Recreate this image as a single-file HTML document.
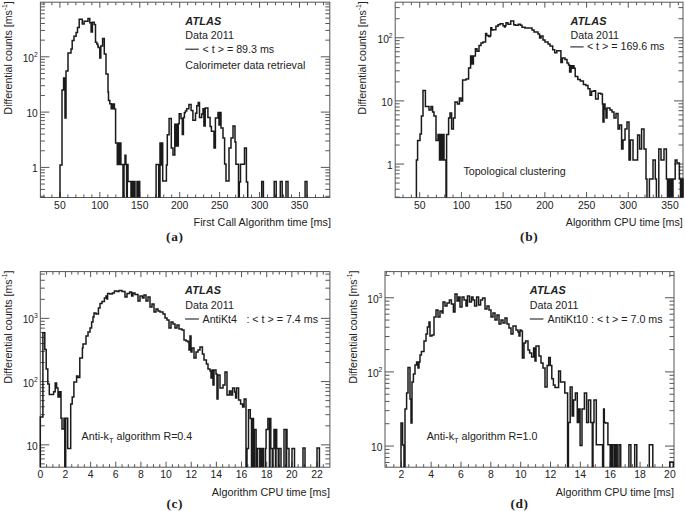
<!DOCTYPE html><html><head><meta charset="utf-8"><style>html,body{margin:0;padding:0;background:#fff;overflow:hidden}svg{display:block}</style></head><body><svg width="685" height="511" viewBox="0 0 685 511" font-family="&quot;Liberation Sans&quot;, sans-serif" fill="#222">
<rect width="685" height="511" fill="#fff"/>
<rect x="40.4" y="2.2" width="289.4" height="195.3" fill="none" stroke="#555" stroke-width="1"/>
<path d="M43.93 197.5v-3M43.93 2.2v3M51.91 197.5v-3M51.91 2.2v3M59.9 197.5v-5.5M59.9 2.2v5.5M67.89 197.5v-3M67.89 2.2v3M75.87 197.5v-3M75.87 2.2v3M83.86 197.5v-3M83.86 2.2v3M91.85 197.5v-3M91.85 2.2v3M99.83 197.5v-5.5M99.83 2.2v5.5M107.82 197.5v-3M107.82 2.2v3M115.81 197.5v-3M115.81 2.2v3M123.79 197.5v-3M123.79 2.2v3M131.78 197.5v-3M131.78 2.2v3M139.77 197.5v-5.5M139.77 2.2v5.5M147.75 197.5v-3M147.75 2.2v3M155.74 197.5v-3M155.74 2.2v3M163.73 197.5v-3M163.73 2.2v3M171.71 197.5v-3M171.71 2.2v3M179.7 197.5v-5.5M179.7 2.2v5.5M187.69 197.5v-3M187.69 2.2v3M195.67 197.5v-3M195.67 2.2v3M203.66 197.5v-3M203.66 2.2v3M211.65 197.5v-3M211.65 2.2v3M219.63 197.5v-5.5M219.63 2.2v5.5M227.62 197.5v-3M227.62 2.2v3M235.61 197.5v-3M235.61 2.2v3M243.59 197.5v-3M243.59 2.2v3M251.58 197.5v-3M251.58 2.2v3M259.57 197.5v-5.5M259.57 2.2v5.5M267.55 197.5v-3M267.55 2.2v3M275.54 197.5v-3M275.54 2.2v3M283.53 197.5v-3M283.53 2.2v3M291.51 197.5v-3M291.51 2.2v3M299.5 197.5v-5.5M299.5 2.2v5.5M307.49 197.5v-3M307.49 2.2v3M315.47 197.5v-3M315.47 2.2v3M323.46 197.5v-3M323.46 2.2v3M40.4 196.32h4.5M329.8 196.32h-4.5M40.4 189.41h4.5M329.8 189.41h-4.5M40.4 184.05h4.5M329.8 184.05h-4.5M40.4 179.67h4.5M329.8 179.67h-4.5M40.4 175.97h4.5M329.8 175.97h-4.5M40.4 172.76h4.5M329.8 172.76h-4.5M40.4 169.93h4.5M329.8 169.93h-4.5M40.4 167.4h9M329.8 167.4h-9M40.4 150.75h4.5M329.8 150.75h-4.5M40.4 141.02h4.5M329.8 141.02h-4.5M40.4 134.11h4.5M329.8 134.11h-4.5M40.4 128.75h4.5M329.8 128.75h-4.5M40.4 124.37h4.5M329.8 124.37h-4.5M40.4 120.67h4.5M329.8 120.67h-4.5M40.4 117.46h4.5M329.8 117.46h-4.5M40.4 114.63h4.5M329.8 114.63h-4.5M40.4 112.1h9M329.8 112.1h-9M40.4 95.45h4.5M329.8 95.45h-4.5M40.4 85.72h4.5M329.8 85.72h-4.5M40.4 78.81h4.5M329.8 78.81h-4.5M40.4 73.45h4.5M329.8 73.45h-4.5M40.4 69.07h4.5M329.8 69.07h-4.5M40.4 65.37h4.5M329.8 65.37h-4.5M40.4 62.16h4.5M329.8 62.16h-4.5M40.4 59.33h4.5M329.8 59.33h-4.5M40.4 56.8h9M329.8 56.8h-9M40.4 40.15h4.5M329.8 40.15h-4.5M40.4 30.42h4.5M329.8 30.42h-4.5M40.4 23.51h4.5M329.8 23.51h-4.5M40.4 18.15h4.5M329.8 18.15h-4.5M40.4 13.77h4.5M329.8 13.77h-4.5M40.4 10.07h4.5M329.8 10.07h-4.5M40.4 6.86h4.5M329.8 6.86h-4.5M40.4 4.03h4.5M329.8 4.03h-4.5" stroke="#555" stroke-width="1" fill="none"/>
<text x="59.9" y="208.7" text-anchor="middle" font-size="10.4">50</text>
<text x="99.83" y="208.7" text-anchor="middle" font-size="10.4">100</text>
<text x="139.77" y="208.7" text-anchor="middle" font-size="10.4">150</text>
<text x="179.7" y="208.7" text-anchor="middle" font-size="10.4">200</text>
<text x="219.63" y="208.7" text-anchor="middle" font-size="10.4">250</text>
<text x="259.57" y="208.7" text-anchor="middle" font-size="10.4">300</text>
<text x="299.5" y="208.7" text-anchor="middle" font-size="10.4">350</text>
<text transform="translate(37.8,172.3) scale(0.93,1)" text-anchor="end" font-size="11">1</text>
<text transform="translate(37.8,117) scale(0.93,1)" text-anchor="end" font-size="11">10</text>
<text transform="translate(37.8,61.7) scale(0.93,1)" text-anchor="end" font-size="11">10<tspan font-size="7.3" dy="-5">2</tspan></text>
<path d="M60 197.5V165H62V90H63.6V78H65V118H66V71H68V53H71V49H72.2V40.4H74V36.3H76.1V32.5H77.5V27.6H79.2V19.3H82.3V24.1H84.1V21.2H88V18.4H89.8V22.8H91.1V32H92.4V22.3H94.2V24.5H95.5V42.2H96.8V44H97.8V46H98.2V47.4H99.8V58H100.8V46.1H102.6V38.6H104.3V54H106V74H108V92H108.5V100.5H109.8V103.8H111.2V108.7H112V104H112.8V108.7H113.6V104H114.4V109H115.6V143H117.3V164.5H118.1V143H119V164.5H119.8V143H120.9V164.5H123V197.5M124 197.5V164.5H125V155.3H125.9V164.5H126.6V197.5M127.3 197.5V164.5H128V181.6H131V197.5M132.4 197.5V181.6H133.4V197.5M134 197.5V181.6H135V197.5M137 197.5V181.6H138V197.5M138.7 197.5V181.6H139.7V197.5M156.1 197.5V164.5H158.7V197.5M160 197.5V143H160.9V165H161.6V143H162.7V181H166.4V165H167.3V134.8H169.1V118.5H171.3V148H173V155H174.8V124.2H175.6V146H176.4V124.2H177.2V146H178.3V123.8H179.2V113.7H181V118.5H182.3V134.4H183.4V117.6H184.4V112.8H185.4V111H186.7V108.8H188.9V104.4H191.1V110.6H192.9V120.3H195.5V113.2H196.8V105.7H198.2V102.6H199.5V117.6H201.7V114H203V108.8H203.9V126H205.2V108H207.9V117.6H210.1V126.4H211.4V131.3H214V148H215.4V118H218V112.4H219V125H220V112.4H221V128H223V138H224.6V164H226V181H229V148H231V138H233V126H235V142H235.9V164.3H238.5V197.5M239.3 197.5V182H240.5V164.3H244.5V147.9H246.4V182H247.7V197.5M261.7 197.5V181.4H263.4V197.5M274.2 197.5V181.4H276.2V197.5M280.3 197.5V181.4H282.2V197.5M286 197.5V181.4H288V197.5M305.1 197.5V181.4H307V197.5" stroke="#1a1a1a" stroke-width="1.5" fill="none" stroke-linejoin="miter"/>
<rect x="395.2" y="2.2" width="287.8" height="195.4" fill="none" stroke="#555" stroke-width="1"/>
<path d="M403.01 197.6v-3M403.01 2.2v3M411.36 197.6v-3M411.36 2.2v3M419.7 197.6v-5.5M419.7 2.2v5.5M428.04 197.6v-3M428.04 2.2v3M436.39 197.6v-3M436.39 2.2v3M444.73 197.6v-3M444.73 2.2v3M453.07 197.6v-3M453.07 2.2v3M461.42 197.6v-5.5M461.42 2.2v5.5M469.76 197.6v-3M469.76 2.2v3M478.1 197.6v-3M478.1 2.2v3M486.45 197.6v-3M486.45 2.2v3M494.79 197.6v-3M494.79 2.2v3M503.13 197.6v-5.5M503.13 2.2v5.5M511.48 197.6v-3M511.48 2.2v3M519.82 197.6v-3M519.82 2.2v3M528.16 197.6v-3M528.16 2.2v3M536.51 197.6v-3M536.51 2.2v3M544.85 197.6v-5.5M544.85 2.2v5.5M553.19 197.6v-3M553.19 2.2v3M561.54 197.6v-3M561.54 2.2v3M569.88 197.6v-3M569.88 2.2v3M578.22 197.6v-3M578.22 2.2v3M586.57 197.6v-5.5M586.57 2.2v5.5M594.91 197.6v-3M594.91 2.2v3M603.25 197.6v-3M603.25 2.2v3M611.6 197.6v-3M611.6 2.2v3M619.94 197.6v-3M619.94 2.2v3M628.28 197.6v-5.5M628.28 2.2v5.5M636.63 197.6v-3M636.63 2.2v3M644.97 197.6v-3M644.97 2.2v3M653.31 197.6v-3M653.31 2.2v3M661.66 197.6v-3M661.66 2.2v3M670 197.6v-5.5M670 2.2v5.5M678.34 197.6v-3M678.34 2.2v3M395.2 197.07h4.5M683 197.07h-4.5M395.2 189.18h4.5M683 189.18h-4.5M395.2 183.06h4.5M683 183.06h-4.5M395.2 178.06h4.5M683 178.06h-4.5M395.2 173.83h4.5M683 173.83h-4.5M395.2 170.17h4.5M683 170.17h-4.5M395.2 166.94h4.5M683 166.94h-4.5M395.2 164.05h9M683 164.05h-9M395.2 145.04h4.5M683 145.04h-4.5M395.2 133.92h4.5M683 133.92h-4.5M395.2 126.03h4.5M683 126.03h-4.5M395.2 119.91h4.5M683 119.91h-4.5M395.2 114.91h4.5M683 114.91h-4.5M395.2 110.68h4.5M683 110.68h-4.5M395.2 107.02h4.5M683 107.02h-4.5M395.2 103.79h4.5M683 103.79h-4.5M395.2 100.9h9M683 100.9h-9M395.2 81.89h4.5M683 81.89h-4.5M395.2 70.77h4.5M683 70.77h-4.5M395.2 62.88h4.5M683 62.88h-4.5M395.2 56.76h4.5M683 56.76h-4.5M395.2 51.76h4.5M683 51.76h-4.5M395.2 47.53h4.5M683 47.53h-4.5M395.2 43.87h4.5M683 43.87h-4.5M395.2 40.64h4.5M683 40.64h-4.5M395.2 37.75h9M683 37.75h-9M395.2 18.74h4.5M683 18.74h-4.5M395.2 7.62h4.5M683 7.62h-4.5" stroke="#555" stroke-width="1" fill="none"/>
<text x="419.7" y="208.7" text-anchor="middle" font-size="10.4">50</text>
<text x="461.42" y="208.7" text-anchor="middle" font-size="10.4">100</text>
<text x="503.13" y="208.7" text-anchor="middle" font-size="10.4">150</text>
<text x="544.85" y="208.7" text-anchor="middle" font-size="10.4">200</text>
<text x="586.57" y="208.7" text-anchor="middle" font-size="10.4">250</text>
<text x="628.28" y="208.7" text-anchor="middle" font-size="10.4">300</text>
<text x="670" y="208.7" text-anchor="middle" font-size="10.4">350</text>
<text transform="translate(392.6,168.95) scale(0.93,1)" text-anchor="end" font-size="11">1</text>
<text transform="translate(392.6,105.8) scale(0.93,1)" text-anchor="end" font-size="11">10</text>
<text transform="translate(392.6,42.65) scale(0.93,1)" text-anchor="end" font-size="11">10<tspan font-size="7.3" dy="-5">2</tspan></text>
<path d="M416.4 197.6V160H417.6V140.4H420V134H421.4V116H423V90.4H425.4V106.4H429V110H431V106.4H432.6V112H434V116H436V140.4H438V134.4H439.5V160H440.5V134.4H442V160H443V134.4H444V160H446V197.6M446.6 197.6V134.4H448.6V118H450V113H451.6V129H453.4V118H455V102H457.4V104H459.4V98H461V101H462.6V80H466V79H468.6V68H470.6V56H471.3V64H472V56H472.7V64H473.4V56H474.4V55.9H475.4V48.7H477V51.3H479V45.6H481V43.1H483V42.1H485.6V33.4H486.7V35.4H488.5V36.5H490.2V35.4H490.8V27.8H491.8V30H492.8V29.8H495.9V26.2H498V24.7H500V23.7H503V25.7H504.5V27H505.2V25.7H506V22.7H508V24.2H510.7V21.1H513.7V24.7H515.3V25.2H518.3V24.2H520.4V25.2H522V27.3H525V28H532V30H534V32H538V34H539.6V38H541V36H543V40H545V42H548V44H550V46H552.7V49.7H554.7V52.8H556.8V50.7H560.9V62.5H562.4V57.9H565V59.4H567V63H568.5V65H569.6V71.9H571.1V65.7H572V68.3H573V65.7H574V68.3H575.2V76.5H577.8V79.5H580.3V81H583.4V84.6H585.9V85.6H588V88.7H590V95.3H591.6V91.3H594.1V90.8H595.6V98.9H598.2V93.3H600.8V94H602.4V104H603V122H604V104H605V109H606V118H607V108H610V110H612V112H614V118H616V113.6H618V129H619.6V125H621.6V149H623V140H625V129H627V122H629V160H630.4V140H633V160H637.6V135H639.6V149H641.6V129H644V149H646V179H647V197.6M649.4 197.6V179H653V160H655.3V179H656.4V197.6M658.8 197.6V149H661V160H664V149H666.4V179H667.5V197.6M668.8 197.6V179H670V197.6M671 197.6V179H672V197.6M673 197.6V179H675.2V160H677V163H679.4V179H680.5V197.6M681.5 197.6V179H683V197.6" stroke="#1a1a1a" stroke-width="1.5" fill="none" stroke-linejoin="miter"/>
<rect x="40.3" y="271.6" width="289.6" height="195.6" fill="none" stroke="#555" stroke-width="1"/>
<path d="M46.59 467.2v-3M46.59 271.6v3M52.88 467.2v-3M52.88 271.6v3M59.17 467.2v-3M59.17 271.6v3M65.45 467.2v-5.5M65.45 271.6v5.5M71.74 467.2v-3M71.74 271.6v3M78.03 467.2v-3M78.03 271.6v3M84.32 467.2v-3M84.32 271.6v3M90.61 467.2v-5.5M90.61 271.6v5.5M96.9 467.2v-3M96.9 271.6v3M103.19 467.2v-3M103.19 271.6v3M109.47 467.2v-3M109.47 271.6v3M115.76 467.2v-5.5M115.76 271.6v5.5M122.05 467.2v-3M122.05 271.6v3M128.34 467.2v-3M128.34 271.6v3M134.63 467.2v-3M134.63 271.6v3M140.92 467.2v-5.5M140.92 271.6v5.5M147.21 467.2v-3M147.21 271.6v3M153.5 467.2v-3M153.5 271.6v3M159.78 467.2v-3M159.78 271.6v3M166.07 467.2v-5.5M166.07 271.6v5.5M172.36 467.2v-3M172.36 271.6v3M178.65 467.2v-3M178.65 271.6v3M184.94 467.2v-3M184.94 271.6v3M191.23 467.2v-5.5M191.23 271.6v5.5M197.52 467.2v-3M197.52 271.6v3M203.8 467.2v-3M203.8 271.6v3M210.09 467.2v-3M210.09 271.6v3M216.38 467.2v-5.5M216.38 271.6v5.5M222.67 467.2v-3M222.67 271.6v3M228.96 467.2v-3M228.96 271.6v3M235.25 467.2v-3M235.25 271.6v3M241.54 467.2v-5.5M241.54 271.6v5.5M247.82 467.2v-3M247.82 271.6v3M254.11 467.2v-3M254.11 271.6v3M260.4 467.2v-3M260.4 271.6v3M266.69 467.2v-5.5M266.69 271.6v5.5M272.98 467.2v-3M272.98 271.6v3M279.27 467.2v-3M279.27 271.6v3M285.56 467.2v-3M285.56 271.6v3M291.85 467.2v-5.5M291.85 271.6v5.5M298.13 467.2v-3M298.13 271.6v3M304.42 467.2v-3M304.42 271.6v3M310.71 467.2v-3M310.71 271.6v3M317 467.2v-5.5M317 271.6v5.5M323.29 467.2v-3M323.29 271.6v3M40.3 463.89h4.5M329.9 463.89h-4.5M40.3 458.88h4.5M329.9 458.88h-4.5M40.3 454.65h4.5M329.9 454.65h-4.5M40.3 450.98h4.5M329.9 450.98h-4.5M40.3 447.74h4.5M329.9 447.74h-4.5M40.3 444.85h9M329.9 444.85h-9M40.3 425.81h4.5M329.9 425.81h-4.5M40.3 414.67h4.5M329.9 414.67h-4.5M40.3 406.77h4.5M329.9 406.77h-4.5M40.3 400.64h4.5M329.9 400.64h-4.5M40.3 395.63h4.5M329.9 395.63h-4.5M40.3 391.4h4.5M329.9 391.4h-4.5M40.3 387.73h4.5M329.9 387.73h-4.5M40.3 384.49h4.5M329.9 384.49h-4.5M40.3 381.6h9M329.9 381.6h-9M40.3 362.56h4.5M329.9 362.56h-4.5M40.3 351.42h4.5M329.9 351.42h-4.5M40.3 343.52h4.5M329.9 343.52h-4.5M40.3 337.39h4.5M329.9 337.39h-4.5M40.3 332.38h4.5M329.9 332.38h-4.5M40.3 328.15h4.5M329.9 328.15h-4.5M40.3 324.48h4.5M329.9 324.48h-4.5M40.3 321.24h4.5M329.9 321.24h-4.5M40.3 318.35h9M329.9 318.35h-9M40.3 299.31h4.5M329.9 299.31h-4.5M40.3 288.17h4.5M329.9 288.17h-4.5M40.3 280.27h4.5M329.9 280.27h-4.5M40.3 274.14h4.5M329.9 274.14h-4.5" stroke="#555" stroke-width="1" fill="none"/>
<text x="40.3" y="478.2" text-anchor="middle" font-size="10.4">0</text>
<text x="65.45" y="478.2" text-anchor="middle" font-size="10.4">2</text>
<text x="90.61" y="478.2" text-anchor="middle" font-size="10.4">4</text>
<text x="115.76" y="478.2" text-anchor="middle" font-size="10.4">6</text>
<text x="140.92" y="478.2" text-anchor="middle" font-size="10.4">8</text>
<text x="166.07" y="478.2" text-anchor="middle" font-size="10.4">10</text>
<text x="191.23" y="478.2" text-anchor="middle" font-size="10.4">12</text>
<text x="216.38" y="478.2" text-anchor="middle" font-size="10.4">14</text>
<text x="241.54" y="478.2" text-anchor="middle" font-size="10.4">16</text>
<text x="266.69" y="478.2" text-anchor="middle" font-size="10.4">18</text>
<text x="291.85" y="478.2" text-anchor="middle" font-size="10.4">20</text>
<text x="317" y="478.2" text-anchor="middle" font-size="10.4">22</text>
<text transform="translate(37.8,449.75) scale(0.93,1)" text-anchor="end" font-size="11">10</text>
<text transform="translate(37.8,386.5) scale(0.93,1)" text-anchor="end" font-size="11">10<tspan font-size="7.3" dy="-5">2</tspan></text>
<text transform="translate(37.8,323.25) scale(0.93,1)" text-anchor="end" font-size="11">10<tspan font-size="7.3" dy="-5">3</tspan></text>
<path d="M40.3 467.2V417H42.9V332.8H44.8V349.5H46.2V369H47.8V384H49.3V394.6H53.6V391.7H55.2V383H56.6V388H58V397H59.5V391.7H61V418.3H62V429H64V418.3H64.8V467.2M65.7 467.2V418.3H67.7V448.4H70.7V404H72.2V397H73.9V382H76.6V376H78V377.5H79.8V358H82.4V348H83V344H86V336H88V332H90V328H91.6V322H93V317H94V313H96V314H98.4V308H100V303.6H102V301.6H104.4V298H106V296H107V299H107.6V293.6H110V294H112.4V293H114.4V291H117V291.6H119V290.6H122V291.6H125V297H127V293.6H129.6V292H131.6V296H133V293H135V294.4H138V301H140V296H142.4V298H144V295H146V301H148V297H150V307H152V304H154V312H156V309H158V311H160V312H163V314H165V318H167V320H169V328H171V322H173V324H175V328H177V325H179V329H182V330H184V340H186V341H188V342H189V350H190V336H191V352H192V348H194V358H196V352H198V350H200V347H202.4V354H204V360H206.4V364H208V369H210V371H211V378H212V370H213V385H214V370H216V374H217V399H218V375H220V388H223V385H225V372H227V395H229.4V391H231V395H232.6V388H234.6V392H235.6V398H236.6V388H238.6V400H240.6V404H242.6V407H244.1V399H246V467.2M247 467.2V448.5H248.5V409.7H250.3V418.5H251.5V467.2M252.2 467.2V418.5H253.5V467.2M254.4 467.2V429.5H256.1V467.2M257.6 467.2V448.5H259.8V467.2M260.5 467.2V448.5H262V467.2M262.5 467.2V448.5H263.5V467.2M265.5 467.2V448.5H266.1V429.5H267.9V418.5H269.5V467.2M270 467.2V418.5H270.8V448.5H272.3V467.2M273 467.2V448.5H274V429.5H275.5V467.2M276 467.2V429.5H276.7V448.5H278.3V467.2M279 467.2V448.5H281V467.2M284 467.2V429.5H286V467.2M286.6 467.2V429.5H287V448.5H289V467.2M292 467.2V448.5H294.5V467.2M303 467.2V448H305V467.2M317 467.2V448H319.4V467.2" stroke="#1a1a1a" stroke-width="1.5" fill="none" stroke-linejoin="miter"/>
<rect x="385" y="271.6" width="289" height="195.6" fill="none" stroke="#555" stroke-width="1"/>
<path d="M386.38 467.2v-3M386.38 271.6v3M393.84 467.2v-3M393.84 271.6v3M401.3 467.2v-5.5M401.3 271.6v5.5M408.76 467.2v-3M408.76 271.6v3M416.22 467.2v-3M416.22 271.6v3M423.68 467.2v-3M423.68 271.6v3M431.14 467.2v-5.5M431.14 271.6v5.5M438.61 467.2v-3M438.61 271.6v3M446.07 467.2v-3M446.07 271.6v3M453.53 467.2v-3M453.53 271.6v3M460.99 467.2v-5.5M460.99 271.6v5.5M468.45 467.2v-3M468.45 271.6v3M475.91 467.2v-3M475.91 271.6v3M483.37 467.2v-3M483.37 271.6v3M490.83 467.2v-5.5M490.83 271.6v5.5M498.29 467.2v-3M498.29 271.6v3M505.76 467.2v-3M505.76 271.6v3M513.22 467.2v-3M513.22 271.6v3M520.68 467.2v-5.5M520.68 271.6v5.5M528.14 467.2v-3M528.14 271.6v3M535.6 467.2v-3M535.6 271.6v3M543.06 467.2v-3M543.06 271.6v3M550.52 467.2v-5.5M550.52 271.6v5.5M557.98 467.2v-3M557.98 271.6v3M565.44 467.2v-3M565.44 271.6v3M572.91 467.2v-3M572.91 271.6v3M580.37 467.2v-5.5M580.37 271.6v5.5M587.83 467.2v-3M587.83 271.6v3M595.29 467.2v-3M595.29 271.6v3M602.75 467.2v-3M602.75 271.6v3M610.21 467.2v-5.5M610.21 271.6v5.5M617.67 467.2v-3M617.67 271.6v3M625.13 467.2v-3M625.13 271.6v3M632.59 467.2v-3M632.59 271.6v3M640.06 467.2v-5.5M640.06 271.6v5.5M647.52 467.2v-3M647.52 271.6v3M654.98 467.2v-3M654.98 271.6v3M662.44 467.2v-3M662.44 271.6v3M669.9 467.2v-5.5M669.9 271.6v5.5M385 462.5h4.5M674 462.5h-4.5M385 457.54h4.5M674 457.54h-4.5M385 453.24h4.5M674 453.24h-4.5M385 449.44h4.5M674 449.44h-4.5M385 446.05h9M674 446.05h-9M385 423.73h4.5M674 423.73h-4.5M385 410.67h4.5M674 410.67h-4.5M385 401.41h4.5M674 401.41h-4.5M385 394.22h4.5M674 394.22h-4.5M385 388.35h4.5M674 388.35h-4.5M385 383.39h4.5M674 383.39h-4.5M385 379.09h4.5M674 379.09h-4.5M385 375.29h4.5M674 375.29h-4.5M385 371.9h9M674 371.9h-9M385 349.58h4.5M674 349.58h-4.5M385 336.52h4.5M674 336.52h-4.5M385 327.26h4.5M674 327.26h-4.5M385 320.07h4.5M674 320.07h-4.5M385 314.2h4.5M674 314.2h-4.5M385 309.24h4.5M674 309.24h-4.5M385 304.94h4.5M674 304.94h-4.5M385 301.14h4.5M674 301.14h-4.5M385 297.75h9M674 297.75h-9M385 275.43h4.5M674 275.43h-4.5" stroke="#555" stroke-width="1" fill="none"/>
<text x="401.3" y="478.2" text-anchor="middle" font-size="10.4">2</text>
<text x="431.14" y="478.2" text-anchor="middle" font-size="10.4">4</text>
<text x="460.99" y="478.2" text-anchor="middle" font-size="10.4">6</text>
<text x="490.83" y="478.2" text-anchor="middle" font-size="10.4">8</text>
<text x="520.68" y="478.2" text-anchor="middle" font-size="10.4">10</text>
<text x="550.52" y="478.2" text-anchor="middle" font-size="10.4">12</text>
<text x="580.37" y="478.2" text-anchor="middle" font-size="10.4">14</text>
<text x="610.21" y="478.2" text-anchor="middle" font-size="10.4">16</text>
<text x="640.06" y="478.2" text-anchor="middle" font-size="10.4">18</text>
<text x="669.9" y="478.2" text-anchor="middle" font-size="10.4">20</text>
<text transform="translate(382.4,450.95) scale(0.93,1)" text-anchor="end" font-size="11">10</text>
<text transform="translate(382.4,376.8) scale(0.93,1)" text-anchor="end" font-size="11">10<tspan font-size="7.3" dy="-5">2</tspan></text>
<text transform="translate(382.4,302.65) scale(0.93,1)" text-anchor="end" font-size="11">10<tspan font-size="7.3" dy="-5">3</tspan></text>
<path d="M401 467.2V423H402.6V445H404V467.2M405 467.2V409H406.6V393H408V367.6H410V399H411V423H412V382H413.4V374H415V365H416.6V362H418V368H419V362H420V355H421.4V351.6H424V341H426V334H427.4V327H429V322H430V336H432V335H434V317H436V310H438V317H440V311H442V313H443V302H445V306H447V303H449.4V300H451.4V304H453.4V312H455V294H457V301H458.6V297H460V307H462V297H464V300H466V306H467.4V296H469.4V302H471.4V297H473V300H474.6V306H476.6V297H478.6V305H480.6V300H482.6V298H485V309H487V306H489V310H491V317H493V313H495V320H497V315H499V324H501V320H503V323H505V318H507V324H509V328H511V334H513V326H516V330H518V332H519V336H520V330H521V331H522.4V358H524V343H525.6V341H528V350H529.6V353H531.6V357H533.6V348H535V361H536V346H539V356H541V363H543V368H545V387H547.1V365.5H548.7V357.6H550.3V365.5H551.8V378.8H553.4V385H555V387.4H558.6V371H560.5V381.9H564.8V392.9H567.6V467.2M568.4 467.2V422.4H570.2V387H572.1V416H573.6V400H575.4V393H577.3V422.4H578.8V409H580.1V445.6H582V409H584.4V393H586.6V422.4H588.5V400H590.7V422.4H592.3V467.2M593 467.2V422.4H594V400H596.3V444.7H602.6V467.2M603.6 467.2V409H604.3V422.4H605.5V423H607.9V444.7H610.2V467.2M611.4 467.2V444.7H612.3V467.2M612.9 467.2V444.7H614.6V467.2M615 467.2V444.7H616V467.2M616.4 467.2V444.7H617.2V467.2M619 467.2V444.7H620.7V467.2M628.9 467.2V444.7H630.9V467.2M634.7 467.2V444.7H636.8V467.2M649.3 467.2V444.7H652.8V467.2M669.8 467.2V462H673.3V467.2" stroke="#1a1a1a" stroke-width="1.5" fill="none" stroke-linejoin="miter"/>
<text transform="translate(12.2,114.4) rotate(-90)" font-size="10.55">Differential counts [ms<tspan font-size="6.8" dy="-5.2">-1</tspan><tspan dy="5.2">]</tspan></text>
<text transform="translate(366,114.4) rotate(-90)" font-size="10.55">Differential counts [ms<tspan font-size="6.8" dy="-5.2">-1</tspan><tspan dy="5.2">]</tspan></text>
<text transform="translate(12.1,383.6) rotate(-90)" font-size="10.55">Differential counts [ms<tspan font-size="6.8" dy="-5.2">-1</tspan><tspan dy="5.2">]</tspan></text>
<text transform="translate(357,383.6) rotate(-90)" font-size="10.55">Differential counts [ms<tspan font-size="6.8" dy="-5.2">-1</tspan><tspan dy="5.2">]</tspan></text>
<text x="331" y="226" font-size="10.8" text-anchor="end">First Call Algorithm time [ms]</text>
<text x="682.8" y="225.9" font-size="10.7" text-anchor="end">Algorithm CPU time [ms]</text>
<text x="330" y="495.9" font-size="10.8" text-anchor="end">Algorithm CPU time [ms]</text>
<text x="674" y="495.9" font-size="10.8" text-anchor="end">Algorithm CPU time [ms]</text>
<text x="174.8" y="241" font-size="13.4" letter-spacing="0.6" font-weight="bold" font-family="&quot;Liberation Serif&quot;, serif" text-anchor="middle">(a)</text>
<text x="529.2" y="241" font-size="13.4" letter-spacing="0.6" font-weight="bold" font-family="&quot;Liberation Serif&quot;, serif" text-anchor="middle">(b)</text>
<text x="174.8" y="507.8" font-size="13.4" letter-spacing="0.6" font-weight="bold" font-family="&quot;Liberation Serif&quot;, serif" text-anchor="middle">(c)</text>
<text x="519.6" y="507.8" font-size="13.4" letter-spacing="0.6" font-weight="bold" font-family="&quot;Liberation Serif&quot;, serif" text-anchor="middle">(d)</text>
<text x="185.3" y="24.6" font-size="10.9" letter-spacing="0.12" font-weight="bold" font-style="italic">ATLAS</text>
<text x="185.3" y="38.8" font-size="10.7" >Data 2011</text>
<path d="M185.3 49.2H198.8" stroke="#222" stroke-width="1.1"/>
<text x="202.6" y="52.7" font-size="10.7" >&lt; t &gt; = 89.3 ms</text>
<text x="185.3" y="68.9" font-size="10.7" >Calorimeter data retrieval</text>
<text x="570.5" y="24.6" font-size="10.9" letter-spacing="0.12" font-weight="bold" font-style="italic">ATLAS</text>
<text x="570.5" y="39.2" font-size="10.7" >Data 2011</text>
<path d="M570.3 46.9H583.6" stroke="#222" stroke-width="1.1"/>
<text x="586.9" y="50.3" font-size="10.7" >&lt; t &gt; = 169.6 ms</text>
<text x="463.4" y="174.9" font-size="10.7" >Topological clustering</text>
<text x="185.1" y="294.2" font-size="10.9" letter-spacing="0.12" font-weight="bold" font-style="italic">ATLAS</text>
<text x="185.3" y="308.9" font-size="10.7" >Data 2011</text>
<path d="M185.1 319H198.9" stroke="#222" stroke-width="1.1"/>
<text x="202.5" y="322.8" font-size="10.7" >AntiKt4</text>
<text x="246.4" y="322.8" font-size="10.7" >: &lt; t &gt; = 7.4 ms</text>
<text x="81.6" y="439.6" font-size="10.7">Anti-k<tspan font-size="7.5" dy="3">T</tspan><tspan dy="-3"> algorithm R=0.4</tspan></text>
<text x="529.8" y="294.3" font-size="10.9" letter-spacing="0.12" font-weight="bold" font-style="italic">ATLAS</text>
<text x="529.8" y="308.9" font-size="10.7" >Data 2011</text>
<path d="M529.8 319H543.4" stroke="#222" stroke-width="1.1"/>
<text x="547.6" y="322.6" font-size="10.7" >AntiKt10 : &lt; t &gt; = 7.0 ms</text>
<text x="426.7" y="439.9" font-size="10.7">Anti-k<tspan font-size="7.5" dy="3">T</tspan><tspan dy="-3"> algorithm R=1.0</tspan></text>
</svg></body></html>
